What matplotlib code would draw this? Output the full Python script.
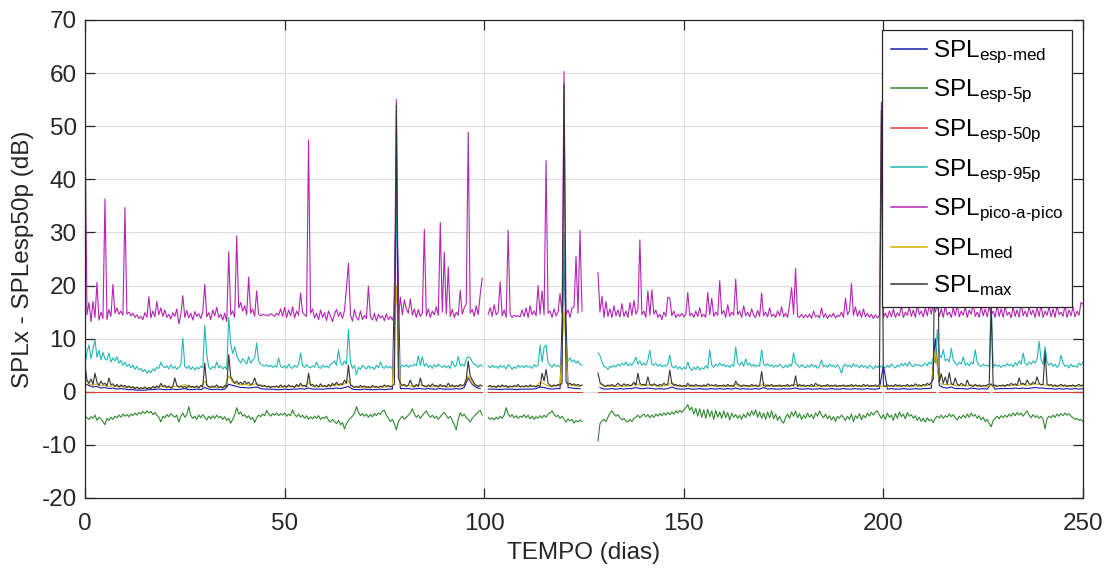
import numpy as np
import matplotlib
matplotlib.use("Agg")
import matplotlib.pyplot as plt

nan = np.nan

# --- data, half-day sampling unless noted ---
# SPL pico-a-pico (magenta)
pico = [
    51.2, 14.5, 16.8, 13.2, 17.0, 14.0, 20.6, 13.5, 15.0, 13.8, 36.3, 13.6, 15.5, 14.2, 20.2, 14.8, 15.8, 14.6, 15.2, 14.4,
    34.7, 14.6, 15.0, 14.3, 14.8, 14.0, 14.5, 13.8, 14.2, 13.6, 14.9, 14.0, 17.9, 13.9, 15.2, 14.1, 17.0, 14.5, 15.8, 14.2,
    15.4, 14.0, 14.6, 13.7, 14.9, 14.2, 15.6, 12.8, 14.5, 18.1, 14.0, 15.3, 13.9, 14.8, 13.5, 15.1, 14.2, 14.7, 13.8, 15.0,
    20.2, 14.1, 14.9, 13.6, 15.4, 14.3, 15.9, 14.0, 14.6, 13.5, 14.8, 13.2, 26.4, 14.5, 15.2, 14.0, 29.4, 15.8, 16.8, 15.2,
    16.2, 14.5, 21.6, 14.8, 15.6, 14.2, 19.0, 14.6, 14.3, 14.6, 14.4, 14.5, 14.3, 14.7, 14.5, 14.2, 14.8, 14.4, 15.6, 14.2,
    15.9, 14.0, 15.4, 14.3, 16.0, 13.9, 15.2, 14.4, 18.6, 15.0, 14.5, 14.2, 47.4, 14.8, 15.6, 13.9, 14.8, 13.6, 15.4, 14.0,
    14.9, 13.4, 15.2, 14.3, 13.2, 14.6, 15.5, 14.2, 15.0, 13.8, 15.3, 19.6, 24.2, 14.5, 13.3, 15.5, 14.0, 13.5, 15.2, 13.6,
    14.4, 13.8, 19.9, 14.2, 13.5, 14.8, 13.3, 14.6, 13.9, 14.3, 13.4, 14.7, 13.6, 14.2, 13.5, 14.8, 55.0, 13.6, 17.8, 14.5,
    17.3, 15.6, 14.8, 17.5, 14.4, 15.6, 14.0, 15.5, 14.2, 14.8, 30.6, 14.3, 15.6, 14.0, 15.2, 14.5, 16.0, 14.4, 31.9, 15.0,
    26.3, 14.6, 23.5, 14.2, 15.5, 14.0, 15.0, 14.4, 19.1, 14.6, 15.8, 16.5, 48.9, 14.8, 15.5, 14.2, 16.2, 14.5, 18.3, 21.4,
    nan, nan, 14.6, 15.8, 14.2, 16.4, 14.5, 15.0, 20.7, 14.3, 15.4, 14.0, 30.4, 14.6, 14.0, 14.4, 14.2, 14.3, 14.1, 15.4,
    14.2, 15.8, 14.0, 16.2, 14.5, 15.2, 14.3, 20.0, 14.6, 19.0, 14.5, 43.5, 14.8, 15.2, 14.0, 15.6, 14.3, 15.0, 18.5, 14.6,
    60.3, 14.5, 15.4, 14.0, 15.8, 16.0, 25.5, 14.8, 30.4, 15.2, nan, nan, nan, nan, nan, nan, nan, 22.4, 15.0, 18.0,
    14.0, 17.0, 14.2, 15.6, 14.0, 16.2, 14.3, 15.4, 14.1, 16.6, 14.2, 15.2, 14.0, 16.8, 14.4, 17.2, 14.6, 15.5, 28.6, 14.5,
    15.2, 14.0, 19.0, 14.4, 19.2, 14.6, 15.4, 14.0, 14.6, 13.6, 15.0, 14.2, 17.8, 17.6, 14.3, 15.2, 14.0, 14.6, 14.2, 14.8,
    14.1, 14.6, 18.7, 14.3, 14.8, 14.0, 15.2, 14.2, 15.8, 14.1, 14.6, 14.0, 18.7, 14.5, 17.6, 14.2, 15.0, 14.4, 20.9, 14.6,
    15.3, 14.0, 16.4, 14.2, 15.0, 14.4, 21.2, 14.5, 15.2, 14.0, 16.2, 14.3, 15.0, 14.1, 15.6, 14.4, 14.0, 15.3, 14.2, 18.6,
    14.3, 15.0, 14.1, 15.8, 14.2, 14.6, 14.0, 15.2, 14.3, 16.0, 14.1, 14.8, 14.0, 16.5, 19.6, 14.6, 23.2, 14.2, 14.0, 14.6,
    13.9, 14.5, 14.0, 14.6, 13.8, 15.2, 14.1, 14.4, 13.9, 15.8, 14.0, 14.7, 13.8, 14.5, 14.1, 14.8, 13.9, 14.4, 14.2, 15.0,
    14.0, 17.6, 14.5, 15.2, 20.4, 14.4, 16.0, 14.2, 15.3, 14.0, 15.6, 14.1, 14.8, 14.0, 14.6, 13.8, 14.5, 13.9, 14.3, 54.5,
    14.0, 14.8, 13.9, 15.2, 14.1, 15.6, 14.0, 14.9, 14.3, 16.2, 14.0, 15.0, 14.4, 16.0, 14.2, 15.4, 14.0, 16.4, 14.5, 15.2,
    14.1, 15.8, 14.3, 16.4, 14.6, 16.8, 15.0, 16.4, 14.2, 15.6, 14.0, 16.2, 14.4, 15.0, 14.0, 15.8, 14.3, 16.4, 14.1, 15.2,
    14.4, 16.0, 14.0, 15.4, 14.6, 16.6, 14.2, 15.0, 14.0, 16.2, 14.3, 15.6, 14.1, 16.0, 14.5, 15.2, 14.0, 16.4, 14.2, 15.6,
    14.0, 16.2, 14.4, 15.0, 13.9, 16.0, 14.2, 15.4, 14.0, 16.8, 14.3, 15.2, 14.1, 16.0, 14.5, 15.4, 14.0, 15.8, 14.2, 16.4,
    14.0, 15.2, 14.4, 16.0, 14.1, 15.6, 14.0, 16.2, 14.5, 15.0, 14.2, 16.4, 14.0, 15.4, 14.3, 16.0, 14.1, 15.2, 14.4, 16.8,
    16.5,
]

# SPL esp-95p (cyan)
esp95 = [
    5.0, 7.5, 8.8, 6.2, 8.0, 9.8, 6.5, 7.8, 6.0, 7.4, 6.2, 6.0, 7.3, 5.6, 6.4, 5.8, 6.6, 5.4, 5.9, 5.0,
    5.6, 4.8, 5.2, 4.5, 5.0, 4.2, 4.8, 4.1, 4.4, 3.8, 4.2, 3.5, 4.0, 3.6, 4.3, 3.9, 4.6, 4.4, 5.6, 4.8,
    4.5, 4.9, 4.3, 5.1, 4.4, 4.8, 4.2, 4.6, 5.0, 10.1, 4.8, 4.4, 4.9, 4.2, 4.7, 4.1, 4.6, 4.3, 4.8, 4.5,
    12.5, 7.0, 4.6, 4.2, 4.8, 4.4, 5.6, 4.5, 4.9, 4.3, 4.7, 4.2, 14.0, 9.0, 7.2, 8.5, 6.8, 6.0, 5.4, 6.2,
    5.8, 5.2, 6.6, 5.4, 5.9, 6.4, 9.2, 5.8, 5.2, 5.0, 4.8, 5.1, 4.7, 5.0, 4.6, 4.9, 4.6, 6.4, 4.8, 4.5,
    4.9, 4.4, 5.2, 4.6, 4.4, 5.0, 4.6, 5.2, 7.3, 4.9, 4.6, 5.1, 4.7, 4.5, 4.9, 4.6, 5.6, 4.7, 4.4, 5.0,
    4.6, 4.9, 4.5, 5.2, 5.4, 5.8, 5.0, 7.9, 5.5, 5.0, 5.8, 5.2, 11.7, 5.6, 4.4, 5.0, 3.2, 4.6, 4.2, 5.0,
    4.6, 4.3, 4.9, 4.4, 4.7, 4.2, 5.0, 4.5, 5.6, 4.7, 4.4, 4.9, 4.5, 4.8, 4.3, 4.6, 40.0, 4.8, 4.5, 5.0,
    4.7, 5.1, 4.6, 5.0, 4.8, 5.2, 4.9, 6.8, 5.0, 6.6, 4.8, 5.3, 4.6, 5.0, 4.4, 5.1, 4.7, 5.2, 4.8, 4.6,
    5.0, 4.5, 4.9, 4.4, 5.8, 4.7, 5.0, 6.6, 4.9, 5.2, 4.8, 6.2, 6.6, 6.4, 5.6, 5.2, 5.0, 4.6, 5.1, 4.8,
    nan, nan, 4.9, 4.5, 5.0, 4.6, 4.8, 4.4, 5.0, 4.6, 4.9, 4.3, 5.1, 4.8, 4.2, 4.7, 4.4, 5.0, 4.6, 4.9,
    4.5, 5.0, 4.6, 4.8, 4.4, 5.1, 4.7, 5.0, 8.8, 5.6, 8.4, 8.8, 5.4, 5.0, 4.6, 5.2, 4.8, 5.0, 4.6, 5.2,
    30.0, 6.2, 5.8, 6.4, 5.6, 6.0, 5.4, 5.8, 5.2, 5.0, nan, nan, nan, nan, nan, nan, nan, 7.3, 6.8, 5.6,
    4.8, 4.6, 4.2, 4.8, 4.6, 5.0, 4.7, 5.2, 4.9, 5.4, 5.0, 5.6, 4.9, 5.3, 5.0, 5.6, 6.5, 5.2, 5.8, 5.0,
    5.4, 5.0, 6.0, 7.8, 5.2, 5.0, 5.4, 4.8, 5.2, 4.7, 5.0, 4.8, 5.2, 6.9, 4.8, 4.5, 4.9, 4.3, 4.7, 4.2,
    4.6, 4.3, 5.6, 4.5, 4.0, 4.6, 4.2, 4.8, 4.1, 4.5, 4.3, 4.9, 4.4, 7.9, 5.0, 4.6, 5.2, 4.8, 5.4, 4.9,
    5.2, 4.7, 5.0, 4.6, 5.1, 4.8, 8.4, 5.4, 5.0, 5.6, 4.8, 6.2, 5.0, 5.4, 4.8, 5.2, 4.7, 5.0, 4.8, 7.9,
    5.2, 4.9, 5.3, 4.8, 5.1, 4.6, 5.0, 4.7, 5.2, 4.8, 4.5, 5.0, 4.6, 5.2, 4.8, 7.3, 5.4, 5.0, 4.6, 5.1,
    4.8, 4.5, 5.0, 4.6, 5.2, 4.7, 5.0, 4.4, 4.9, 6.0, 4.7, 5.0, 4.6, 5.2, 4.8, 5.0, 4.6, 5.1, 4.5, 3.5,
    4.8, 5.2, 4.7, 5.0, 4.6, 5.3, 4.8, 5.0, 4.5, 5.1, 4.6, 4.9, 4.4, 5.0, 4.7, 4.3, 4.9, 4.5, 5.0, 4.6,
    4.8, 4.5, 5.0, 4.6, 5.2, 4.8, 4.5, 5.0, 4.7, 5.3, 4.9, 5.4, 4.8, 5.6, 5.0, 4.7, 5.2, 4.9, 5.1, 4.8,
    5.0, 5.4, 4.9, 5.6, 5.2, 6.4, 5.4, 11.7, 7.0, 6.4, 7.9, 5.8, 6.2, 5.6, 8.2, 6.0, 5.4, 5.0, 5.6, 5.2,
    6.6, 5.0, 5.4, 4.9, 5.6, 5.2, 7.9, 5.6, 5.0, 4.8, 5.2, 4.9, 5.0, 4.7, 17.0, 4.6, 5.2, 4.8, 5.0, 4.6,
    5.0, 4.8, 5.3, 4.9, 5.2, 4.7, 5.5, 5.0, 5.8, 5.2, 7.3, 5.4, 5.0, 5.6, 5.2, 5.8, 5.4, 6.2, 9.5, 6.0,
    5.2, 8.5, 5.6, 5.0, 5.4, 4.8, 5.2, 4.6, 5.0, 6.9, 5.4, 4.8, 5.0, 4.5, 5.2, 4.7, 4.9, 4.6, 5.4, 5.0,
    5.6,
]

# SPL esp-5p (green)
esp5 = [
    -4.6, -4.9, -5.2, -4.7, -5.0, -4.4, -5.4, -4.8, -5.1, -5.6, -6.2, -5.0, -5.4, -4.8, -5.2, -4.6, -4.9, -4.4, -4.8, -4.2,
    -4.6, -4.3, -4.7, -4.2, -4.5, -4.0, -4.4, -3.9, -4.2, -3.7, -4.1, -3.6, -4.0, -3.7, -4.3, -3.9, -4.4, -4.8, -5.7, -4.6,
    -4.9, -4.3, -4.7, -4.1, -4.5, -4.8, -4.4, -5.7, -4.6, -4.0, -4.8, -4.3, -2.8, -4.5, -5.0, -4.6, -5.2, -4.4, -4.9, -4.3,
    -4.8, -5.3, -4.6, -5.1, -4.5, -5.0, -4.4, -4.9, -4.6, -5.2, -4.7, -5.4, -5.0, -5.9, -5.2, -4.4, -3.0, -4.2, -3.8, -4.6,
    -4.3, -4.9, -4.5, -5.2, -4.8, -5.8, -4.9, -4.4, -4.7, -4.2, -4.5, -3.5, -4.2, -4.6, -4.1, -4.4, -4.0, -4.5, -4.1, -4.4,
    -4.0, -4.6, -4.2, -4.5, -3.4, -4.3, -4.7, -4.2, -4.8, -4.4, -5.0, -4.5, -5.2, -4.7, -5.1, -4.6, -5.0, -4.5, -5.2, -4.8,
    -5.0, -4.6, -5.4, -5.7, -5.2, -5.6, -6.0, -5.4, -6.2, -5.8, -7.0, -6.0, -5.4, -5.0, -4.6, -4.0, -2.8, -3.9, -4.5, -4.1,
    -4.6, -4.2, -4.8, -4.3, -4.7, -4.1, -4.5, -4.0, -4.3, -3.6, -3.5, -4.4, -5.0, -5.6, -5.2, -6.0, -7.2, -5.6, -5.0, -4.6,
    -5.2, -4.8, -4.4, -4.0, -3.2, -4.2, -4.8, -4.4, -5.0, -4.5, -4.0, -3.6, -4.3, -4.8, -4.4, -5.0, -4.6, -5.2, -4.7, -4.2,
    -3.9, -4.5, -5.0, -4.6, -5.4, -6.2, -7.2, -5.2, -3.9, -4.6, -4.2, -4.9, -5.2, -5.7, -5.0, -4.6, -4.2, -3.8, -3.5, -4.4,
    nan, nan, -4.8, -5.2, -4.9, -5.3, -4.8, -5.1, -4.6, -5.0, -4.4, -3.0, -4.2, -4.7, -4.3, -4.9, -4.5, -5.0, -4.6, -4.8,
    -4.3, -4.9, -4.4, -5.1, -4.6, -5.2, -4.7, -5.0, -4.5, -4.9, -4.4, -4.8, -4.2, -4.0, -3.6, -4.3, -4.7, -4.4, -5.0, -4.6,
    -5.2, -5.7, -5.1, -5.5, -5.2, -5.9, -5.4, -5.7, -5.3, -5.6, nan, nan, nan, nan, nan, nan, nan, -9.3, -6.0, -5.5,
    -5.2, -5.6, -4.8, -4.0, -3.6, -4.2, -4.6, -4.3, -4.9, -5.3, -5.0, -5.5, -5.7, -5.2, -5.6, -5.0, -4.8, -4.4, -4.9, -4.5,
    -4.2, -4.7, -4.3, -4.9, -4.4, -4.8, -4.2, -4.6, -4.1, -4.5, -4.0, -4.4, -3.9, -4.3, -3.8, -4.2, -3.6, -4.0, -3.5, -3.9,
    -3.4, -3.0, -2.4, -3.5, -2.9, -4.2, -3.1, -4.6, -3.2, -4.8, -3.4, -5.0, -3.3, -4.7, -3.6, -5.2, -3.5, -4.8, -3.8, -5.0,
    -3.6, -4.9, -3.9, -5.3, -4.0, -4.8, -4.3, -5.0, -4.4, -5.2, -4.2, -4.9, -3.9, -4.6, -3.6, -4.4, -3.4, -4.8, -3.8, -5.0,
    -4.0, -5.2, -3.8, -4.9, -3.6, -5.1, -4.2, -5.4, -4.6, -5.5, -5.9, -4.8, -4.2, -5.0, -3.8, -4.6, -3.6, -4.9, -4.1, -5.2,
    -4.4, -5.0, -4.0, -4.8, -4.3, -5.1, -4.0, -4.6, -3.6, -4.4, -4.9, -4.2, -5.1, -4.5, -5.3, -4.7, -5.6, -4.6, -5.0, -4.4,
    -4.8, -5.4, -4.6, -5.2, -4.2, -5.6, -4.5, -5.0, -4.1, -5.3, -4.4, -4.9, -4.0, -4.6, -3.9, -4.4, -3.8, -3.6, -4.4, -5.0,
    -4.3, -5.2, -4.0, -4.8, -4.4, -5.4, -4.1, -5.0, -3.8, -4.7, -4.2, -5.1, -3.9, -4.6, -4.3, -5.0, -4.5, -5.4, -4.8, -5.6,
    -5.0, -5.7, -4.9, -5.5, -5.2, -5.8, -5.0, -4.6, -4.9, -4.4, -5.0, -4.5, -4.8, -4.2, -4.7, -4.3, -4.9, -5.3, -4.6, -5.0,
    -4.4, -4.9, -4.2, -4.8, -4.0, -4.6, -4.3, -5.0, -4.5, -5.3, -4.8, -5.6, -5.2, -6.0, -6.6, -5.4, -5.0, -4.6, -5.1, -4.5,
    -4.9, -4.4, -4.8, -4.2, -4.6, -4.0, -4.5, -3.9, -4.4, -4.0, -4.6, -4.1, -3.6, -4.4, -4.9, -4.3, -4.8, -4.5, -5.0, -4.6,
    -5.2, -7.0, -5.0, -4.6, -4.9, -4.4, -4.8, -4.2, -4.6, -4.1, -4.5, -4.0, -4.4, -4.1, -4.6, -4.9, -5.2, -5.0, -5.4, -5.2,
    -5.6,
]

# SPL max (black)
spl_max = [
    5.0, 2.2, 1.6, 2.4, 1.4, 3.5, 1.8, 1.2, 2.0, 1.4, 1.6, 1.1, 2.6, 1.3, 1.5, 1.0, 1.4, 0.9, 1.3, 1.0,
    1.2, 0.8, 1.1, 0.7, 1.0, 0.6, 0.9, 0.5, 0.8, 0.6, 0.9, 0.5, 0.8, 0.6, 1.0, 0.7, 1.1, 0.8, 1.6, 1.0,
    1.2, 0.8, 1.1, 0.7, 1.0, 2.6, 1.2, 0.9, 1.1, 0.8, 1.0, 0.7, 1.2, 0.9, 1.0, 0.8, 1.1, 0.7, 1.2, 0.9,
    5.4, 1.2, 1.0, 0.8, 1.1, 0.9, 1.3, 0.8, 1.0, 0.7, 1.2, 0.9, 7.0, 2.8, 2.2, 1.6, 2.0, 1.5, 1.8, 1.4,
    2.0, 1.5, 1.8, 1.3, 1.6, 2.6, 1.4, 1.1, 1.3, 1.0, 1.2, 0.9, 1.1, 0.8, 1.0, 0.9, 1.1, 0.8, 1.3, 0.9,
    1.2, 0.8, 1.3, 1.0, 1.1, 0.8, 1.4, 1.0, 1.6, 1.1, 1.2, 0.9, 3.5, 1.2, 1.4, 1.0, 1.3, 0.9, 1.5, 1.0,
    1.2, 0.9, 1.4, 1.0, 1.6, 1.2, 1.8, 1.3, 1.5, 1.4, 2.2, 1.6, 5.0, 1.2, 1.1, 0.8, 1.0, 0.8, 1.2, 0.9,
    1.1, 0.8, 1.0, 0.7, 1.2, 0.9, 1.0, 0.8, 1.1, 0.9, 1.3, 1.0, 1.2, 0.9, 1.1, 1.4, 54.0, 2.6, 1.6, 1.2,
    1.4, 1.0, 1.3, 2.2, 1.2, 0.9, 1.4, 1.0, 2.6, 1.2, 1.1, 0.9, 1.3, 1.0, 1.5, 1.1, 1.2, 0.9, 1.4, 1.0,
    1.2, 0.9, 1.6, 1.0, 1.3, 0.9, 1.2, 1.0, 1.4, 1.1, 1.3, 2.4, 5.8, 3.0, 2.2, 1.6, 1.2, 1.0, 1.3, 1.1,
    nan, nan, 1.0, 1.2, 0.9, 1.1, 0.8, 1.2, 0.9, 1.3, 1.0, 1.2, 0.8, 1.1, 0.9, 1.2, 1.0, 1.4, 0.9, 1.1,
    1.0, 1.2, 0.9, 1.3, 1.0, 1.1, 0.9, 1.2, 1.0, 3.5, 2.0, 4.2, 1.6, 1.2, 1.0, 1.3, 1.1, 1.4, 1.2, 1.6,
    58.0, 1.8, 1.4, 1.6, 1.3, 1.5, 1.2, 1.4, 1.1, 1.3, nan, nan, nan, nan, nan, nan, nan, 3.5, 1.8, 1.4,
    1.2, 1.0, 1.3, 1.1, 1.4, 1.0, 1.2, 1.6, 1.3, 1.1, 1.5, 1.2, 1.4, 1.1, 1.3, 1.8, 1.2, 3.5, 1.6, 1.3,
    1.4, 1.2, 2.8, 1.4, 1.2, 1.5, 1.3, 1.1, 1.4, 1.2, 1.6, 1.3, 1.5, 4.1, 1.6, 1.2, 1.4, 1.1, 1.3, 1.0,
    1.2, 1.0, 1.6, 1.1, 1.3, 1.0, 1.4, 1.1, 1.2, 1.0, 1.3, 1.1, 1.5, 1.2, 1.3, 1.1, 1.4, 1.0, 1.2, 1.1,
    1.3, 1.0, 1.4, 1.1, 1.2, 1.0, 2.0, 1.4, 1.2, 1.0, 1.3, 1.1, 1.2, 1.0, 1.4, 1.1, 1.3, 1.0, 1.2, 3.8,
    1.2, 1.0, 1.3, 1.1, 1.4, 1.0, 1.2, 1.1, 1.3, 1.0, 1.2, 1.1, 1.4, 1.0, 1.3, 1.1, 3.0, 1.0, 1.4, 1.1,
    1.3, 1.0, 1.2, 1.1, 1.4, 1.0, 1.6, 1.2, 1.3, 1.0, 1.2, 1.1, 1.4, 1.0, 1.2, 1.1, 1.3, 1.0, 1.2, 1.1,
    1.3, 1.0, 1.2, 1.1, 1.4, 1.0, 1.3, 1.1, 1.2, 1.0, 1.4, 1.1, 1.3, 1.0, 1.2, 1.1, 1.3, 1.0, 1.4, 53.0,
    1.2, 1.0, 1.3, 1.1, 1.2, 1.0, 1.4, 1.1, 1.3, 1.0, 1.2, 1.1, 1.4, 1.0, 1.3, 1.1, 1.5, 1.2, 1.3, 1.1,
    1.4, 1.2, 1.6, 1.3, 1.8, 2.4, 40.0, 36.0, 1.8, 3.4, 1.6, 2.8, 1.4, 3.6, 1.5, 1.3, 2.6, 1.4, 1.2, 1.6,
    1.3, 1.1, 2.2, 1.3, 1.2, 1.0, 1.4, 1.1, 1.3, 1.0, 1.2, 1.1, 1.3, 1.4, 16.0, 1.1, 1.3, 1.0, 1.2, 1.1,
    1.3, 1.0, 1.4, 1.2, 1.6, 1.3, 1.5, 1.2, 2.6, 1.4, 1.6, 1.3, 2.2, 1.5, 1.4, 1.8, 1.5, 2.8, 1.6, 1.3,
    1.4, 7.6, 1.5, 1.2, 1.4, 1.1, 1.3, 1.0, 1.2, 1.4, 1.1, 1.3, 1.0, 1.2, 1.1, 1.3, 1.0, 1.2, 1.4, 1.1,
    1.3,
]

# daily sampling
# SPL med (yellow)
spl_med = [
    2.5, 1.4, 1.2, 1.5, 1.1, 1.2, 1.0, 1.1, 0.9, 1.0,
    0.8, 0.9, 0.7, 0.8, 0.6, 0.7, 0.7, 0.8, 0.9, 1.0,
    0.9, 0.8, 0.9, 1.0, 0.9, 1.4, 0.9, 0.8, 0.9, 1.0,
    2.0, 0.9, 0.8, 0.9, 0.8, 0.9, 3.0, 1.8, 1.5, 1.3,
    1.4, 1.2, 1.3, 1.6, 1.1, 1.0, 0.9, 1.0, 0.9, 0.8,
    0.9, 1.0, 0.9, 1.0, 1.1, 1.0, 1.8, 1.0, 0.9, 1.0,
    1.0, 1.1, 1.2, 1.3, 1.2, 1.5, 2.0, 1.0, 0.9, 0.8,
    0.9, 0.8, 0.9, 0.8, 0.9, 0.9, 1.0, 1.0, 20.0, 1.2,
    1.1, 1.2, 1.0, 1.1, 1.3, 1.0, 1.1, 0.9, 1.0, 1.1,
    1.0, 0.9, 1.0, 1.1, 1.0, 1.4, 3.0, 1.6, 1.2, 1.0,
    nan, 1.0, 0.9, 1.0, 0.9, 1.0, 0.9, 1.0, 0.9, 1.0,
    0.9, 1.0, 1.0, 1.1, 1.8, 1.5, 1.1, 1.0, 1.1, 1.2,
    15.0, 1.3, 1.2, 1.1, 1.0, nan, nan, nan, nan, 1.5,
    1.0, 1.0, 1.1, 1.0, 1.1, 1.0, 1.1, 1.2, 1.6, 1.2,
    1.1, 1.3, 1.2, 1.1, 1.0, 1.1, 1.2, 1.8, 1.1, 1.0,
    1.0, 1.1, 1.0, 1.0, 1.1, 1.0, 1.0, 1.2, 1.0, 1.1,
    1.0, 1.1, 1.0, 1.4, 1.0, 1.1, 1.0, 1.0, 1.1, 1.0,
    1.6, 1.0, 1.1, 1.0, 1.0, 1.1, 1.0, 1.2, 1.4, 1.0,
    1.0, 1.1, 1.0, 1.0, 1.1, 1.0, 1.0, 1.1, 1.0, 1.0,
    1.1, 1.0, 1.0, 1.1, 1.0, 1.0, 1.1, 1.0, 1.0, 1.1,
    1.0, 1.0, 1.1, 1.0, 1.0, 1.1, 1.0, 1.0, 1.1, 1.0,
    1.1, 1.2, 1.4, 8.0, 1.6, 1.4, 1.3, 1.5, 1.2, 1.1,
    1.2, 1.1, 1.3, 1.1, 1.0, 1.1, 1.0, 1.2, 1.0, 1.1,
    1.1, 1.2, 1.1, 1.3, 1.2, 1.4, 1.2, 1.3, 1.5, 1.4,
    1.3, 1.2, 1.1, 1.0, 1.1, 1.0, 1.1, 1.0, 1.1, 1.0,
    1.1,
]

# SPL esp-med (blue)
esp_med = [
    1.5, 1.2, 0.9, 1.0, 0.7, 0.8, 0.6, 0.7, 0.5, 0.6,
    0.5, 0.4, 0.4, 0.3, 0.3, 0.3, 0.4, 0.4, 0.5, 0.5,
    0.4, 0.4, 0.5, 0.4, 0.5, 0.6, 0.4, 0.4, 0.5, 0.4,
    0.8, 0.5, 0.4, 0.5, 0.4, 0.5, 1.4, 1.2, 1.0, 0.8,
    0.8, 0.7, 0.8, 0.9, 0.6, 0.5, 0.5, 0.5, 0.4, 0.4,
    0.5, 0.4, 0.5, 0.5, 0.6, 0.5, 0.7, 0.5, 0.5, 0.5,
    0.5, 0.6, 0.6, 0.7, 0.6, 0.8, 1.0, 0.5, 0.4, 0.4,
    0.5, 0.4, 0.4, 0.4, 0.5, 0.4, 0.5, 0.5, 38.0, 0.6,
    0.6, 0.6, 0.5, 0.6, 0.6, 0.5, 0.6, 0.5, 0.5, 0.6,
    0.5, 0.5, 0.5, 0.6, 0.5, 0.8, 2.6, 1.4, 0.8, 0.6,
    nan, 0.5, 0.5, 0.5, 0.4, 0.5, 0.5, 0.5, 0.4, 0.5,
    0.5, 0.5, 0.5, 0.6, 0.9, 0.8, 0.6, 0.5, 0.6, 0.6,
    25.0, 0.8, 0.7, 0.6, 0.6, nan, nan, nan, nan, 0.8,
    0.5, 0.5, 0.6, 0.5, 0.6, 0.5, 0.6, 0.6, 0.8, 0.6,
    0.6, 0.7, 0.6, 0.5, 0.6, 0.5, 0.6, 0.9, 0.6, 0.5,
    0.5, 0.6, 0.5, 0.5, 0.6, 0.5, 0.5, 0.6, 0.5, 0.6,
    0.5, 0.6, 0.5, 0.7, 0.5, 0.6, 0.5, 0.5, 0.6, 0.5,
    0.8, 0.5, 0.6, 0.5, 0.5, 0.6, 0.5, 0.6, 0.7, 0.5,
    0.5, 0.6, 0.5, 0.5, 0.6, 0.5, 0.5, 0.6, 0.5, 0.5,
    0.6, 0.5, 0.5, 0.6, 0.5, 0.5, 0.6, 0.5, 0.5, 0.6,
    5.0, 0.5, 0.6, 0.5, 0.5, 0.6, 0.5, 0.5, 0.6, 0.5,
    0.6, 0.6, 0.7, 10.0, 1.2, 0.8, 0.7, 0.9, 0.6, 0.6,
    0.6, 0.5, 0.7, 0.6, 0.5, 0.6, 0.5, 1.5, 0.5, 0.6,
    0.6, 0.6, 0.6, 0.7, 0.6, 0.7, 0.6, 0.7, 0.8, 0.7,
    0.7, 0.6, 0.6, 0.5, 0.6, 0.5, 0.6, 0.5, 0.6, 0.5,
    0.6,
]

# SPL esp-50p minus itself: zero, broken where records are missing
red_gap_days = [200.0, 213.5, 227.0]

t_half = 0.5 * np.arange(len(pico))
t_cyan = 0.5 * np.arange(len(esp95))
t_green = 0.5 * np.arange(len(esp5))
t_black = 0.5 * np.arange(len(spl_max))
t_day = np.arange(len(spl_med))
t_blue = np.arange(len(esp_med))

esp50 = np.where(np.isnan(np.array(pico, dtype=float)), np.nan, 0.0)
for d in red_gap_days:
    esp50[np.isclose(t_half, d)] = np.nan

# --- style ---
plt.rcParams['font.family'] = ['Liberation Sans', 'DejaVu Sans']
plt.rcParams['mathtext.default'] = 'regular'
plt.rcParams['axes.unicode_minus'] = False
txt = '#262626'
fs = 17.5

fig = plt.figure(figsize=(11.05, 5.68), dpi=100)
ax = fig.add_axes([85 / 1105, 70 / 568, 998 / 1105, 478 / 568])

lw = 0.8
ax.plot(t_blue, esp_med, color='#1a1aa8', lw=lw, label='SPL$_{esp\u2010med}$')
ax.plot(t_green, esp5, color='#2e8a2e', lw=lw, label='SPL$_{esp\u20105p}$')
ax.plot(t_half, esp50, color='#e03a3a', lw=lw, label='SPL$_{esp\u201050p}$')
ax.plot(t_cyan, esp95, color='#22b8b8', lw=lw, label='SPL$_{esp\u201095p}$')
ax.plot(t_half, pico, color='#b524b5', lw=lw, label='SPL$_{pico\u2010a\u2010pico}$')
ax.plot(t_day, spl_med, color='#d2b000', lw=lw, label='SPL$_{med}$')
ax.plot(t_black, spl_max, color='#333333', lw=lw, label='SPL$_{max}$')

ax.set_xlim(0, 250)
ax.set_ylim(-20, 70)
ax.set_xticks(np.arange(0, 251, 50))
ax.set_yticks(np.arange(-20, 71, 10))
ax.grid(True, color='#dcdcdc', lw=0.8)
ax.set_axisbelow(True)
for s in ax.spines.values():
    s.set_color(txt)
    s.set_linewidth(0.9)
ax.tick_params(direction='in', top=True, right=True, length=7, width=0.9,
               labelsize=fs, colors=txt)
ax.tick_params(axis='x', pad=11)
ax.tick_params(axis='y', pad=6)

ax.set_xlabel('TEMPO (dias)', fontsize=fs, color=txt, labelpad=5)
ax.set_ylabel('SPLx - SPLesp50p (dB)', fontsize=fs, color=txt, labelpad=5)

leg = ax.legend(loc='upper right', bbox_to_anchor=(0.989, 0.979), borderaxespad=0,
                fontsize=fs, frameon=True, fancybox=False, framealpha=1,
                edgecolor='#262626', handlelength=1.5, handletextpad=0.25,
                labelspacing=0.5, borderpad=0.35)
leg.get_frame().set_linewidth(0.9)
for h in leg.get_lines():
    h.set_linewidth(1.1)

fig.savefig('out.png', dpi=100)
